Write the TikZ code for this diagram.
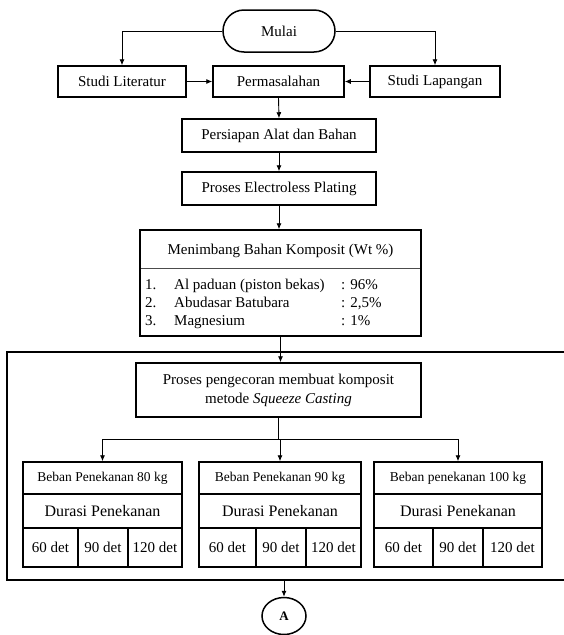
\documentclass[tikz,border=0pt]{standalone}
\usepackage{fontspec}
\setmainfont{Liberation Serif}
\usetikzlibrary{arrows.meta,shapes.geometric}
\begin{document}
\begin{tikzpicture}[x=1pt,y=-1pt,
  box/.style={draw,line width=1.5pt,inner sep=0pt,align=center,font=\fontsize{15}{18}\selectfont},
  txt/.style={inner sep=0pt,font=\fontsize{15}{18}\selectfont},
  arr/.style={line width=0.9pt,-{Latex[length=6pt,width=5pt]}},
  ln/.style={line width=0.9pt}]
\useasboundingbox (0,0) rectangle (563,635);

% top part
\node[box,rounded corners=21pt,minimum width=112pt,minimum height=42pt] (mulai) at (279,31) {Mulai};
\node[box,minimum width=128pt,minimum height=31pt] (lit) at (122,81.5) {Studi Literatur};
\node[box,minimum width=131pt,minimum height=31pt] (perm) at (278.5,81.5) {Permasalahan};
\node[box,minimum width=130pt,minimum height=31pt] (lap) at (435,81.5) {Studi Lapangan};
\node[box,minimum width=194pt,minimum height=33pt] (prep) at (279,135.5) {Persiapan Alat dan Bahan};
\node[box,minimum width=194pt,minimum height=33pt] (elec) at (279,188.5) {Proses Electroless Plating};

% weighing box
\node[box,minimum width=281pt,minimum height=106pt] (men) at (280.5,283) {};
\node[txt] (menh) at (280.5,251) {Menimbang Bahan Komposit (Wt \%)};
\draw[line width=0.8pt,black!70] (141,268) -- (420,268);
\node[txt,anchor=base west] (n1) at (145,289) {1.};
\node[txt,anchor=base west] (t1) at (174,289) {Al paduan (piston bekas)};
\node[txt,anchor=base west] (p1) at (341,289) {: 96\%};
\node[txt,anchor=base west] (n2) at (145,307) {2.};
\node[txt,anchor=base west] (t2) at (174,307) {Abudasar Batubara};
\node[txt,anchor=base west] (p2) at (341,307) {: 2,5\%};
\node[txt,anchor=base west] (n3) at (145,325) {3.};
\node[txt,anchor=base west] (t3) at (174,325) {Magnesium};
\node[txt,anchor=base west] (p3) at (341,325) {: 1\%};

% big frame
\draw[line width=1.8pt] (566,352) -- (7,352) -- (7,580) -- (566,580);
\coordinate (bb) at (284,580);

\node[box,minimum width=285pt,minimum height=54pt] (cast) at (278.5,390)
  {Proses pengecoran membuat komposit\\[1pt] metode \textit{Squeeze Casting}};
\coordinate (j) at (278.5,439);

% three load boxes
\foreach \L/\Da/\Db/\R/\i/\kg in {23/78/128/182/1/Beban Penekanan 80 kg,199/256/306/361/2/Beban Penekanan 90 kg,374/433/483/542/3/Beban penekanan 100 kg}{
  \pgfmathsetmacro\cx{(\L+\R)/2}
  \pgfmathsetmacro\w{\R-\L}
  \pgfmathsetmacro\ca{(\L+\Da)/2}
  \pgfmathsetmacro\wa{\Da-\L}
  \pgfmathsetmacro\cb{(\Da+\Db)/2}
  \pgfmathsetmacro\wb{\Db-\Da}
  \pgfmathsetmacro\cc{(\Db+\R)/2}
  \pgfmathsetmacro\wc{\R-\Db}
  \node[box,minimum width=\w pt,minimum height=32pt,font=\fontsize{13.5}{15}\selectfont] (b\i) at (\cx,478) {\kg};
  \node[box,minimum width=\w pt,minimum height=34pt,font=\fontsize{16}{18}\selectfont] (d\i) at (\cx,511) {Durasi Penekanan};
  \node[box,minimum width=\wa pt,minimum height=39pt] (c\i a) at (\ca,547.5) {60 det};
  \node[box,minimum width=\wb pt,minimum height=39pt] (c\i b) at (\cb,547.5) {90 det};
  \node[box,minimum width=\wc pt,minimum height=39pt] (c\i c) at (\cc,547.5) {120 det};
  \draw[arr] (j) -| (b\i.north);
}

\node[draw,ellipse,line width=1.5pt,minimum width=44pt,minimum height=37pt,inner sep=0pt,font=\bfseries\fontsize{13}{15}\selectfont] (A) at (284,616) {A};

% connectors
\draw[arr] (mulai.west) -| (lit.north);
\draw[arr] (mulai.east) -| (lap.north);
\draw[arr] (lit.east) -- (perm.west);
\draw[arr] (lap.west) -- (perm.east);
\draw[arr] (perm.south) -- (prep.north);
\draw[arr] (prep.south) -- (elec.north);
\draw[arr] (elec.south) -- (elec.south |- men.north);
\draw[arr] (men.south) -- (men.south |- cast.north);
\draw[ln] (cast.south) -- (j);
\draw[arr] (bb) -- (A.north);
\end{tikzpicture}
\end{document}
